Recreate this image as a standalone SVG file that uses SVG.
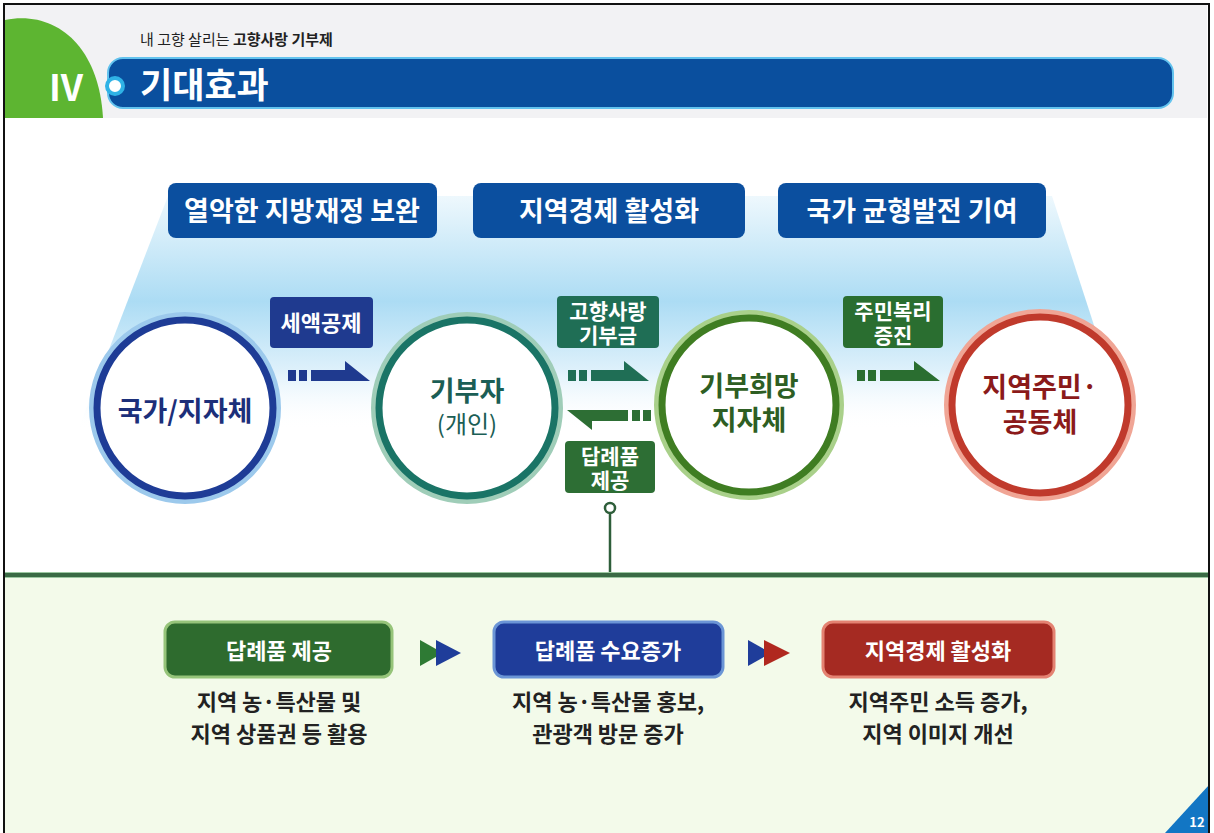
<svg xmlns="http://www.w3.org/2000/svg" width="1214" height="833" viewBox="0 0 1214 833">
<defs>
<style>
.k{font-family:"Noto Sans CJK KR","Noto Sans",sans-serif;}
.w{fill:#fff;font-weight:700;text-anchor:middle;}
.d{fill:#222;font-weight:700;text-anchor:middle;font-size:22px;}
.c{font-weight:700;text-anchor:middle;font-size:27px;}
</style>
<linearGradient id="fan" x1="0" y1="0" x2="0" y2="1">
<stop offset="0" stop-color="#eef8fd"/>
<stop offset="0.45" stop-color="#acdcf4"/>
<stop offset="0.75" stop-color="#dff1fb"/>
<stop offset="1" stop-color="#ffffff" stop-opacity="0"/>
</linearGradient>
</defs>
<rect x="0" y="0" width="1214" height="833" fill="#fff"/>
<!-- header -->
<g id="header">
<rect x="5" y="5" width="1202" height="113" fill="#f2f2f4"/>
<path d="M5,118 L5,20 C55,10 99,45 103,118 Z" fill="#5db531"/>
<text x="66" y="101" class="k" font-size="36" font-weight="700" fill="#fff" text-anchor="middle">IV</text>
<rect x="108" y="58" width="1065" height="50" rx="15" fill="#0a4f9e" stroke="#63c3ee" stroke-width="2"/>
<circle cx="115" cy="86" r="8" fill="#fff" stroke="#2fb2e6" stroke-width="4"/>
<text x="140" y="45" class="k" font-size="15" fill="#222">내 고향 살리는 <tspan font-weight="700">고향사랑 기부제</tspan></text>
<text x="140" y="98" class="k" font-size="35" font-weight="700" fill="#fff">기대효과</text>
</g>
<!-- fan background -->
<polygon points="168,196 1052,196 1128,430 78,430" fill="url(#fan)"/>
<!-- top labels -->
<g id="label-finance"><rect x="168" y="183" width="269" height="55" rx="8" fill="#0b4f9f"/><text x="302" y="221" class="k w" font-size="27">열악한 지방재정 보완</text></g>
<g id="label-economy"><rect x="473" y="183" width="272" height="55" rx="8" fill="#0b4f9f"/><text x="609" y="221" class="k w" font-size="27">지역경제 활성화</text></g>
<g id="label-balance"><rect x="778" y="183" width="268" height="55" rx="8" fill="#0b4f9f"/><text x="912" y="221" class="k w" font-size="27">국가 균형발전 기여</text></g>
<!-- circles -->
<g id="node-state">
<circle cx="185" cy="408" r="90" fill="#fff" stroke="#9cc9ec" stroke-width="12"/>
<circle cx="185" cy="408" r="88" fill="#fff" stroke="#1e3c96" stroke-width="7"/>
<text x="185" y="421" class="k c" font-size="31" fill="#1c2f7a">국가/지자체</text>
</g>
<g id="node-donor">
<circle cx="467" cy="408" r="90" fill="#fff" stroke="#9fcdb8" stroke-width="12"/>
<circle cx="467" cy="408" r="88" fill="#fff" stroke="#1a7466" stroke-width="7"/>
<text x="467" y="401" class="k c" font-size="28" fill="#1b5e55">기부자</text>
<text x="467" y="433" class="k" font-size="24" text-anchor="middle" fill="#1b5e55">(개인)</text>
</g>
<g id="node-local">
<circle cx="749" cy="405" r="89" fill="#fff" stroke="#a9d08a" stroke-width="12"/>
<circle cx="749" cy="405" r="87" fill="#fff" stroke="#3f7d22" stroke-width="7"/>
<text x="749" y="396" class="k c" fill="#2e5e23">기부희망</text>
<text x="749" y="430" class="k c" fill="#2e5e23">지자체</text>
</g>
<g id="node-residents">
<circle cx="1040" cy="405" r="90" fill="#fff" stroke="#f0a595" stroke-width="12"/>
<circle cx="1040" cy="405" r="88" fill="#fff" stroke="#c03a2c" stroke-width="7"/>
<text x="1040" y="397" class="k c" fill="#8b1a1a">지역주민·</text>
<text x="1040" y="432" class="k c" fill="#8b1a1a">공동체</text>
</g>
<!-- connectors -->
<g id="connectors">
<g fill="#1f3a8f">
<rect x="288" y="370" width="8" height="11"/><rect x="299" y="370" width="8" height="11"/>
<polygon points="311,370 345,370 345,361 370,381 311,381"/>
</g>
<rect x="270" y="297" width="103" height="51" rx="4" fill="#1f3a8f"/>
<text x="321" y="331" class="k w" font-size="22">세액공제</text>
<g fill="#1f6e55">
<rect x="568" y="370" width="8" height="11"/><rect x="579" y="370" width="8" height="11"/>
<polygon points="591,370 624,370 624,361 649,381 591,381"/>
</g>
<rect x="557" y="296" width="102" height="52" rx="4" fill="#1f6e55"/>
<text x="608" y="319" class="k w" font-size="21">고향사랑</text>
<text x="608" y="343" class="k w" font-size="21">기부금</text>
<g fill="#2d6e34">
<rect x="643" y="410" width="8" height="11"/><rect x="632" y="410" width="8" height="11"/>
<polygon points="628,410 628,421 592,421 592,430 567,410"/>
</g>
<rect x="565" y="441" width="90" height="52" rx="4" fill="#2d6e34"/>
<text x="610" y="464" class="k w" font-size="21">답례품</text>
<text x="610" y="488" class="k w" font-size="21">제공</text>
<g fill="#2a6e30">
<rect x="857" y="370" width="8" height="11"/><rect x="868" y="370" width="8" height="11"/>
<polygon points="880,370 914,370 914,361 940,381 880,381"/>
</g>
<rect x="843" y="296" width="100" height="52" rx="4" fill="#2a6e30"/>
<text x="893" y="319" class="k w" font-size="21">주민복리</text>
<text x="893" y="343" class="k w" font-size="21">증진</text>
<line x1="610" y1="513" x2="610" y2="575" stroke="#2e5e3a" stroke-width="2.5"/>
<circle cx="610" cy="508" r="5" fill="#fff" stroke="#2e5e3a" stroke-width="2.5"/>
</g>
<!-- bottom section -->
<rect x="5" y="576" width="1204" height="260" fill="#f3faea"/>
<rect x="5" y="572" width="1204" height="6" fill="#9cc8a2"/>
<rect x="5" y="573" width="1204" height="4" fill="#3a6a45"/>
<g id="box-gift">
<rect x="165" y="622" width="227" height="55" rx="10" fill="#2e6b2e" stroke="#96c47a" stroke-width="3"/>
<text x="279" y="659" class="k w" font-size="22">답례품 제공</text>
<text x="279" y="710" class="k d">지역 농·특산물 및</text>
<text x="279" y="742" class="k d">지역 상품권 등 활용</text>
</g>
<g id="box-demand">
<rect x="494" y="622" width="229" height="55" rx="10" fill="#1f3d9a" stroke="#6b95d6" stroke-width="3"/>
<text x="608" y="659" class="k w" font-size="22">답례품 수요증가</text>
<text x="608" y="710" class="k d">지역 농·특산물 홍보,</text>
<text x="608" y="742" class="k d">관광객 방문 증가</text>
</g>
<g id="box-economy">
<rect x="823" y="622" width="231" height="55" rx="10" fill="#a52a22" stroke="#e48272" stroke-width="3"/>
<text x="938" y="659" class="k w" font-size="22">지역경제 활성화</text>
<text x="938" y="710" class="k d">지역주민 소득 증가,</text>
<text x="938" y="742" class="k d">지역 이미지 개선</text>
</g>
<g id="bottom-arrows">
<polygon points="420,640 443,653 420,666" fill="#2e7a34"/>
<polygon points="436,640 461,653 436,666" fill="#1f3d9a"/>
<polygon points="748,640 771,653 748,666" fill="#1f3d9a"/>
<polygon points="764,640 790,653 764,666" fill="#b0281f"/>
</g>
<!-- page number -->
<polygon points="1209,785 1209,833 1165,833" fill="#1276c4"/>
<text x="1197" y="827" class="k" font-size="13" font-weight="700" fill="#fff" text-anchor="middle">12</text>
<rect x="4" y="4" width="1205" height="835" fill="none" stroke="#111" stroke-width="2"/>
</svg>
